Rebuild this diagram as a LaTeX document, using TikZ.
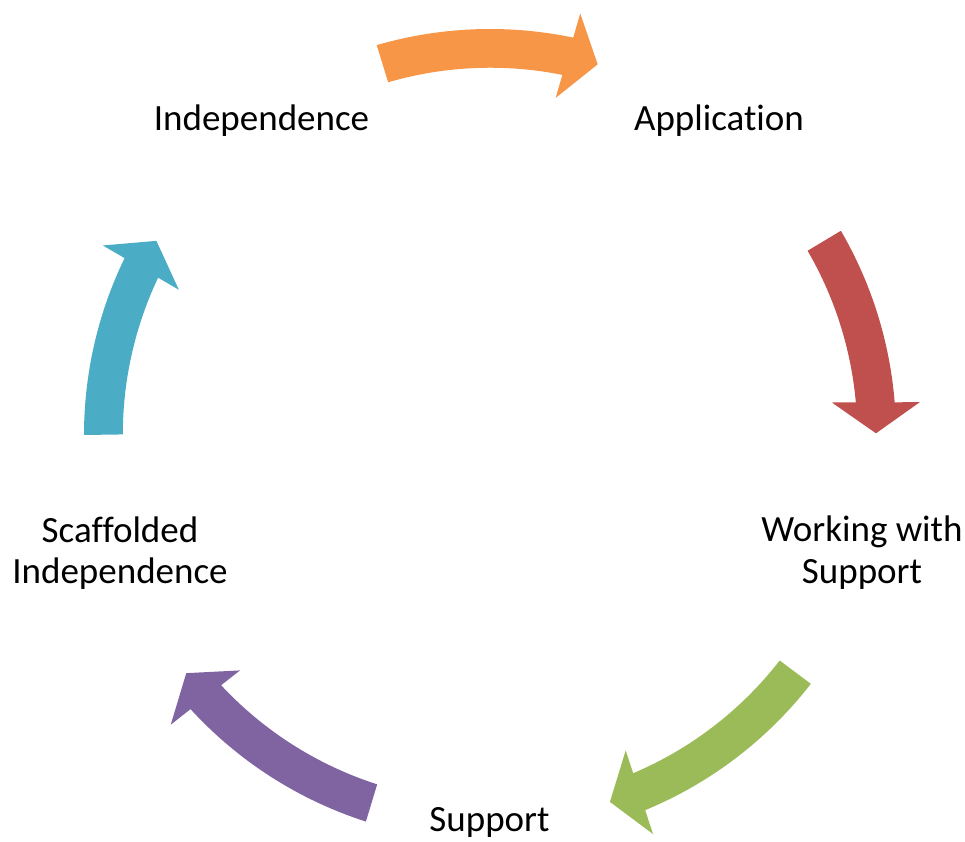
\documentclass[tikz,border=0pt]{standalone}
\usepackage{fontspec}
\setmainfont{Carlito}[Ligatures=NoCommon]
\definecolor{corange}{HTML}{F79646}
\definecolor{cred}{HTML}{C0504D}
\definecolor{cgreen}{HTML}{9BBB59}
\definecolor{cpurple}{HTML}{8064A2}
\definecolor{cteal}{HTML}{4BACC6}
% color, start angle, tip angle
\newcommand\cycarrow[3]{%
  \fill[#1,shift={(490pt,407pt)}]
    (#2:406pt) arc[start angle=#2, end angle={#3+4.37}, radius=406pt]
    -- ({#3+4.12}:431.1pt) -- (#3:386pt) -- ({#3+5.18}:343.4pt)
    -- ({#3+4.84}:367.3pt) arc[start angle={#3+4.84}, end angle=#2, radius=366pt]
    -- cycle;}
\begin{document}
\begin{tikzpicture}[x=1pt,y=1pt,
  lbl/.style={inner sep=0pt, anchor=base, font=\fontsize{37}{44}\selectfont, text=black}]
\useasboundingbox (0,0) rectangle (965,842);
\cycarrow{corange}{106.2}{73.8}
\cycarrow{cred}{30.2}{0.25}
\cycarrow{cgreen}{-37.8}{-71.9}
\cycarrow{cpurple}{-107.8}{-141.9}
\cycarrow{cteal}{180}{149.8}
\node[lbl] (app) at (719,711.5) {Application};
\node[lbl] (work1) at (862,300) {Working with};
\node[lbl] (work2) at (862,258.5) {Support};
\node[lbl] (sup) at (489.5,10.5) {Support};
\node[lbl] (scaf1) at (120,299) {Scaffolded};
\node[lbl] (scaf2) at (120,258.5) {Independence};
\node[lbl] (ind) at (261.5,711.5) {Independence};
\end{tikzpicture}
\end{document}
